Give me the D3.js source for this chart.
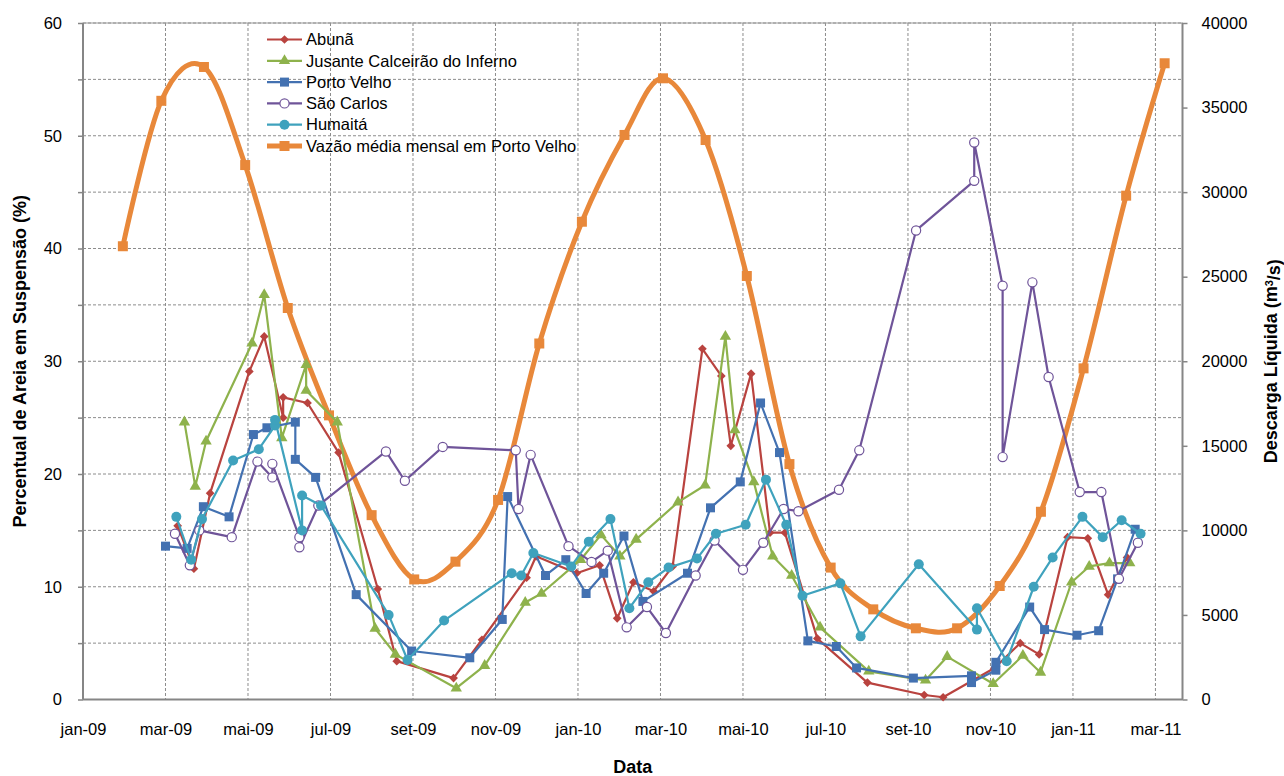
<!DOCTYPE html>
<html>
<head>
<meta charset="utf-8">
<script src="https://cdn.jsdelivr.net/npm/d3@7"></script>
<style>
  body { margin: 0; background: #fff; }
  text { font-family: "Liberation Sans", Arial, sans-serif; fill: #000; }
</style>
</head>
<body>
<div id="chart"></div>
<script>
// data (% of sand in suspension, by sampling date)
var abuna = [
  ['2009-03-12', 15.4], ['2009-03-24', 11.6], ['2009-04-05', 18.3], ['2009-05-04', 29.1],
  ['2009-05-15', 32.2], ['2009-05-29', 25.0], ['2009-05-29', 26.8], ['2009-06-16', 26.3],
  ['2009-07-09', 21.9], ['2009-08-07', 9.8], ['2009-08-21', 3.4], ['2009-10-02', 1.9],
  ['2009-10-23', 5.3], ['2009-11-25', 10.8], ['2009-12-02', 12.7], ['2010-01-01', 11.2],
  ['2010-01-18', 11.9], ['2010-01-31', 7.2], ['2010-02-12', 10.4], ['2010-02-27', 9.6],
  ['2010-03-13', 11.8], ['2010-04-04', 31.1], ['2010-04-18', 28.7], ['2010-04-25', 22.5],
  ['2010-05-10', 28.9], ['2010-05-24', 14.8], ['2010-06-04', 14.8], ['2010-06-28', 5.4],
  ['2010-08-04', 1.5], ['2010-09-15', 0.4], ['2010-09-29', 0.2], ['2010-11-06', 2.8],
  ['2010-11-25', 5.0], ['2010-12-09', 4.0], ['2010-12-30', 14.4], ['2011-01-14', 14.3],
  ['2011-01-29', 9.3], ['2011-02-12', 12.6]
];
var jusante = [
  ['2009-03-17', 24.6], ['2009-03-25', 18.9], ['2009-04-02', 22.9], ['2009-05-06', 31.6],
  ['2009-05-15', 35.9], ['2009-05-28', 23.2], ['2009-06-15', 29.7], ['2009-06-15', 27.4],
  ['2009-07-08', 24.6], ['2009-08-05', 6.3], ['2009-08-20', 4.0], ['2009-10-04', 1.0],
  ['2009-10-25', 3.0], ['2009-11-24', 8.6], ['2009-12-06', 9.4], ['2010-01-04', 12.4],
  ['2010-01-19', 14.6], ['2010-02-02', 12.7], ['2010-02-14', 14.2], ['2010-03-17', 17.5],
  ['2010-04-06', 19.0], ['2010-04-21', 32.2], ['2010-04-28', 23.9], ['2010-05-12', 19.3],
  ['2010-05-26', 12.7], ['2010-06-09', 11.0], ['2010-06-30', 6.4], ['2010-08-05', 2.5],
  ['2010-09-16', 1.7], ['2010-10-02', 3.8], ['2010-11-05', 1.4], ['2010-11-27', 3.9],
  ['2010-12-10', 2.4], ['2011-01-02', 10.4], ['2011-01-15', 11.8], ['2011-01-30', 12.1],
  ['2011-02-14', 12.1]
];
var portoVelho = [
  ['2009-03-03', 13.6], ['2009-03-19', 13.4], ['2009-03-31', 17.1], ['2009-04-19', 16.2],
  ['2009-05-07', 23.5], ['2009-05-17', 24.1], ['2009-06-07', 24.6], ['2009-06-07', 21.3],
  ['2009-06-22', 19.7], ['2009-07-22', 9.3], ['2009-09-01', 4.3], ['2009-10-14', 3.7],
  ['2009-11-07', 7.1], ['2009-11-11', 18.0], ['2009-12-09', 11.0], ['2009-12-24', 12.4],
  ['2010-01-08', 9.4], ['2010-01-21', 11.2], ['2010-02-05', 14.5], ['2010-02-19', 8.7],
  ['2010-03-24', 11.2], ['2010-04-10', 17.0], ['2010-05-02', 19.3], ['2010-05-17', 26.3],
  ['2010-05-31', 21.9], ['2010-06-21', 5.2], ['2010-07-12', 4.7], ['2010-07-27', 2.8],
  ['2010-09-07', 1.9], ['2010-10-20', 2.1], ['2010-10-20', 1.5], ['2010-11-07', 2.6],
  ['2010-11-07', 3.3], ['2010-12-02', 8.2], ['2010-12-13', 6.2], ['2011-01-06', 5.7],
  ['2011-01-22', 6.1], ['2011-02-05', 10.7], ['2011-02-18', 15.1]
];
var saoCarlos = [
  ['2009-03-10', 14.7], ['2009-03-21', 11.9], ['2009-03-28', 15.0], ['2009-04-21', 14.4],
  ['2009-05-10', 21.1], ['2009-05-21', 19.7], ['2009-05-21', 20.9], ['2009-06-10', 14.4],
  ['2009-06-10', 13.5], ['2009-06-24', 17.2], ['2009-08-13', 22.0], ['2009-08-27', 19.4],
  ['2009-09-24', 22.4], ['2009-11-17', 22.1], ['2009-11-19', 16.9], ['2009-11-28', 21.7],
  ['2009-12-26', 13.6], ['2010-01-12', 12.2], ['2010-01-24', 13.2], ['2010-02-07', 6.4],
  ['2010-02-22', 8.2], ['2010-03-08', 5.9], ['2010-03-30', 11.0], ['2010-04-13', 14.1],
  ['2010-05-04', 11.5], ['2010-05-19', 13.9], ['2010-06-03', 16.9], ['2010-06-14', 16.7],
  ['2010-07-14', 18.6], ['2010-07-29', 22.1], ['2010-09-09', 41.6], ['2010-10-22', 46.0],
  ['2010-10-22', 49.4], ['2010-11-12', 36.7], ['2010-11-12', 21.5], ['2010-12-04', 37.0],
  ['2010-12-16', 28.6], ['2011-01-08', 18.4], ['2011-01-24', 18.4], ['2011-02-06', 10.7],
  ['2011-02-20', 13.9]
];
var humaita = [
  ['2009-03-11', 16.2], ['2009-03-22', 12.4], ['2009-03-30', 16.0], ['2009-04-22', 21.2],
  ['2009-05-11', 22.2], ['2009-05-23', 24.3], ['2009-05-23', 24.8], ['2009-06-12', 15.0],
  ['2009-06-12', 18.1], ['2009-06-26', 17.2], ['2009-08-15', 7.5], ['2009-08-29', 3.5],
  ['2009-09-25', 7.0], ['2009-11-14', 11.2], ['2009-11-21', 11.0], ['2009-11-30', 13.0],
  ['2009-12-28', 11.8], ['2010-01-10', 14.0], ['2010-01-26', 16.0], ['2010-02-09', 8.1],
  ['2010-02-23', 10.4], ['2010-03-10', 11.7], ['2010-03-31', 12.5], ['2010-04-14', 14.7],
  ['2010-05-06', 15.5], ['2010-05-21', 19.5], ['2010-06-05', 15.5], ['2010-06-17', 9.2],
  ['2010-07-15', 10.3], ['2010-07-30', 5.6], ['2010-09-11', 12.0], ['2010-10-24', 6.2],
  ['2010-10-24', 8.1], ['2010-11-15', 3.4], ['2010-12-05', 10.0], ['2010-12-19', 12.6],
  ['2011-01-10', 16.2], ['2011-01-25', 14.4], ['2011-02-08', 15.9], ['2011-02-22', 14.7]
];

// monthly mean discharge at Porto Velho (m3/s), secondary axis
var vazaoMonths = ['2009-01-31', '2009-02-28', '2009-03-31', '2009-04-30', '2009-05-31', '2009-06-30',
  '2009-07-31', '2009-08-31', '2009-09-30', '2009-10-31', '2009-11-30', '2009-12-31',
  '2010-01-31', '2010-02-28', '2010-03-31', '2010-04-30', '2010-05-31', '2010-06-30',
  '2010-07-31', '2010-08-31', '2010-09-30', '2010-10-31', '2010-11-30', '2010-12-31',
  '2011-01-31', '2011-02-28'];
var vazaoValues = [26800, 35400, 37400, 31600, 23150, 16800, 10900, 7100, 8150, 11800, 21050, 28250,
  33380, 36730, 33080, 25040, 13920, 7800, 5330, 4210, 4210, 6710, 11100, 19580, 29790, 37620];

var tickDates = ['2009-01-01', '2009-03-03', '2009-05-03', '2009-07-03', '2009-09-02', '2009-11-02',
  '2010-01-02', '2010-03-04', '2010-05-04', '2010-07-04', '2010-09-03', '2010-11-03',
  '2011-01-03', '2011-03-05'];
var tickLabels = ['jan-09', 'mar-09', 'mai-09', 'jul-09', 'set-09', 'nov-09', 'jan-10', 'mar-10',
  'mai-10', 'jul-10', 'set-10', 'nov-10', 'jan-11', 'mar-11'];
var leftTicks = [0, 5, 10, 15, 20, 25, 30, 35, 40, 45, 50, 55, 60];
var rightTicks = [0, 5000, 10000, 15000, 20000, 25000, 30000, 35000, 40000];

var seriesNames = ['Abunã', 'Jusante Calceirão do Inferno', 'Porto Velho', 'São Carlos', 'Humaitá',
  'Vazão média mensal em Porto Velho'];

var colors = {
  abuna: '#B9433F', jusante: '#8EB24C', porto: '#4371B1',
  carlos: '#6F5499', humaita: '#3FA2BD', vazao: '#E8883A'
};

var width = 1284, height = 776;
var plotLeft = 83, plotRight = 1182.5, plotTop = 23, plotBottom = 699.5;
var parseDate = d3.utcParse('%Y-%m-%d');

// primary x axis (sampling dates) and the hidden secondary x axis used by the discharge series
var xScale = d3.scaleUtc()
  .domain([parseDate('2009-01-01'), parseDate('2011-03-25')])
  .range([plotLeft, plotRight]);
var x2Scale = d3.scaleUtc()
  .domain([parseDate('2009-01-02'), parseDate('2011-03-13')])
  .range([plotLeft, plotRight]);
var yScale = d3.scaleLinear().domain([0, 60]).range([plotBottom, plotTop]);
var y2Scale = d3.scaleLinear().domain([0, 40000]).range([plotBottom, plotTop]);

var svg = d3.select('#chart').append('svg')
  .attr('width', width)
  .attr('height', height);

svg.append('rect').attr('width', width).attr('height', height).attr('fill', '#fff');

drawGrid();
drawAxes();

var seriesLayer = svg.append('g').attr('class', 'series');

var vazaoData = vazaoMonths.map(function (d, i) { return [parseDate(d), vazaoValues[i]]; });
seriesLayer.append('path')
  .datum(vazaoData)
  .attr('fill', 'none')
  .attr('stroke', colors.vazao)
  .attr('stroke-width', 5)
  .attr('d', d3.line()
    .x(function (d) { return x2Scale(d[0]); })
    .y(function (d) { return y2Scale(d[1]); })
    .curve(d3.curveCardinal.tension(0)));
seriesLayer.selectAll('.vazaoMarker')
  .data(vazaoData)
  .enter()
  .append('path')
  .attr('class', 'vazaoMarker')
  .attr('transform', function (d) { return 'translate(' + x2Scale(d[0]) + ',' + y2Scale(d[1]) + ')'; })
  .attr('d', d3.symbol(d3.symbolSquare, 100)())
  .attr('fill', colors.vazao);

drawSeries(abuna, colors.abuna, 'diamond');
drawSeries(jusante, colors.jusante, 'triangle');
drawSeries(portoVelho, colors.porto, 'square');
drawSeries(saoCarlos, colors.carlos, 'openCircle');
drawSeries(humaita, colors.humaita, 'circle');

drawLegend();
drawTitles();

function drawGrid() {
  var grid = svg.append('g').attr('class', 'grid');
  grid.selectAll('.hgrid')
    .data(leftTicks.filter(function (d) { return d > 0; }))
    .enter()
    .append('line')
    .attr('x1', plotLeft).attr('x2', plotRight)
    .attr('y1', function (d) { return yScale(d); })
    .attr('y2', function (d) { return yScale(d); })
    .attr('stroke', '#8c8c8c')
    .attr('stroke-width', 1)
    .attr('stroke-dasharray', '3,2');
  grid.selectAll('.vgrid')
    .data(tickDates.slice(1))
    .enter()
    .append('line')
    .attr('x1', function (d) { return xScale(parseDate(d)); })
    .attr('x2', function (d) { return xScale(parseDate(d)); })
    .attr('y1', plotTop).attr('y2', plotBottom)
    .attr('stroke', '#8c8c8c')
    .attr('stroke-width', 1)
    .attr('stroke-dasharray', '3,2');
  grid.append('rect')
    .attr('x', plotLeft).attr('y', plotTop)
    .attr('width', plotRight - plotLeft).attr('height', plotBottom - plotTop)
    .attr('fill', 'none')
    .attr('stroke', '#9a9a9a')
    .attr('stroke-width', 1);
}

function drawAxes() {
  var xAxis = d3.axisBottom(xScale)
    .tickValues(tickDates.map(parseDate))
    .tickFormat(function (d, i) { return tickLabels[i]; })
    .tickSize(0)
    .tickPadding(24);
  var yAxis = d3.axisLeft(yScale)
    .tickValues(leftTicks)
    .tickFormat(function (d) { return d % 10 === 0 ? d : ''; })
    .tickSize(5)
    .tickPadding(16);
  var y2Axis = d3.axisRight(y2Scale)
    .tickValues(rightTicks)
    .tickFormat(d3.format('d'))
    .tickSize(5)
    .tickPadding(14);

  var gx = svg.append('g').attr('transform', 'translate(0,' + plotBottom + ')').call(xAxis);
  var gy = svg.append('g').attr('transform', 'translate(' + plotLeft + ',0)').call(yAxis);
  var gy2 = svg.append('g').attr('transform', 'translate(' + plotRight + ',0)').call(y2Axis);

  [gx, gy, gy2].forEach(function (g) {
    g.select('.domain').attr('stroke', '#868686').attr('stroke-width', 2);
    g.selectAll('.tick line').attr('stroke', '#868686').attr('stroke-width', 1.5);
    g.selectAll('.tick text')
      .style('font-family', '"Liberation Sans", Arial, sans-serif')
      .style('font-size', '16.5px')
      .attr('fill', '#000');
  });
  gy.select('.domain').attr('d', 'M0,' + plotTop + 'V' + plotBottom);
  gy2.select('.domain').attr('d', 'M0,' + plotTop + 'V' + plotBottom);
  gx.select('.domain').attr('d', 'M' + plotLeft + ',0H' + plotRight);
}

function markerPath(type) {
  if (type === 'diamond') return d3.symbol(d3.symbolSquare, 38)();
  if (type === 'triangle') return d3.symbol(d3.symbolTriangle, 56)();
  if (type === 'square') return d3.symbol(d3.symbolSquare, 81)();
  return null;
}

function addMarker(g, type, color) {
  if (type === 'circle') {
    g.append('circle').attr('r', 5).attr('fill', color);
  } else if (type === 'openCircle') {
    g.append('circle').attr('r', 4.6).attr('fill', '#fff').attr('stroke', color).attr('stroke-width', 1.2);
  } else {
    g.append('path')
      .attr('d', markerPath(type))
      .attr('transform', type === 'diamond' ? 'rotate(45)' : null)
      .attr('fill', color);
  }
}

function drawSeries(data, color, type) {
  var pts = data.map(function (d) { return [parseDate(d[0]), d[1]]; });
  seriesLayer.append('path')
    .datum(pts)
    .attr('fill', 'none')
    .attr('stroke', color)
    .attr('stroke-width', 2.2)
    .attr('stroke-linejoin', 'round')
    .attr('d', d3.line()
      .x(function (d) { return xScale(d[0]); })
      .y(function (d) { return yScale(d[1]); }));
  seriesLayer.selectAll(null)
    .data(pts)
    .enter()
    .append('g')
    .attr('transform', function (d) { return 'translate(' + xScale(d[0]) + ',' + yScale(d[1]) + ')'; })
    .each(function () { addMarker(d3.select(this), type, color); });
}

function drawLegend() {
  var legend = svg.append('g').attr('class', 'legend');
  var keys = [
    [colors.abuna, 'diamond', 2.2], [colors.jusante, 'triangle', 2.2], [colors.porto, 'square', 2.2],
    [colors.carlos, 'openCircle', 2.2], [colors.humaita, 'circle', 2.2], [colors.vazao, 'bigSquare', 5]
  ];
  seriesNames.forEach(function (name, i) {
    var y = 39.5 + i * 21.3;
    var row = legend.append('g').attr('transform', 'translate(0,' + y + ')');
    row.append('line')
      .attr('x1', 267).attr('x2', 302)
      .attr('stroke', keys[i][0])
      .attr('stroke-width', keys[i][2]);
    var m = row.append('g').attr('transform', 'translate(284.5,0)');
    if (keys[i][1] === 'bigSquare') {
      m.append('path').attr('d', d3.symbol(d3.symbolSquare, 100)()).attr('fill', keys[i][0]);
    } else {
      addMarker(m, keys[i][1], keys[i][0]);
    }
    row.append('text')
      .attr('x', 306)
      .attr('dy', '0.35em')
      .style('font-size', '16.5px')
      .text(name);
  });
}

function drawTitles() {
  svg.append('text')
    .attr('x', (plotLeft + plotRight) / 2)
    .attr('y', 773)
    .attr('text-anchor', 'middle')
    .style('font-size', '18px')
    .style('font-weight', 'bold')
    .text('Data');

  svg.append('text')
    .attr('transform', 'translate(20,' + ((plotTop + plotBottom) / 2) + ') rotate(-90)')
    .attr('text-anchor', 'middle')
    .attr('dy', '0.35em')
    .style('font-size', '18px')
    .style('font-weight', 'bold')
    .text('Percentual de Areia em Suspensão (%)');

  var t = svg.append('text')
    .attr('transform', 'translate(1271,' + ((plotTop + plotBottom) / 2) + ') rotate(-90)')
    .attr('text-anchor', 'middle')
    .attr('dy', '0.35em')
    .style('font-size', '18px')
    .style('font-weight', 'bold');
  t.append('tspan').text('Descarga Líquida (m');
  t.append('tspan').attr('dy', '-0.4em').style('font-size', '11px').text('3');
  t.append('tspan').attr('dy', '0.4em').text('/s)');
}
</script>
</body>
</html>
